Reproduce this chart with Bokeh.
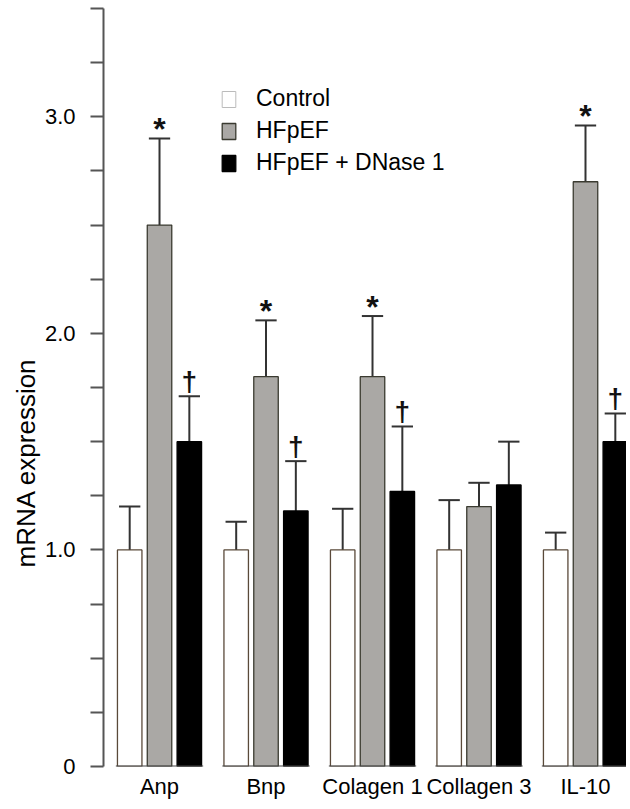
import numpy as np
from bokeh.plotting import figure
from bokeh.models import (Range1d, FixedTicker, ColumnDataSource, Legend, LegendItem, Title)
from bokeh.core.properties import value
from bokeh.embed import file_html
from bokeh.resources import INLINE

# ---- data ----
categories = ["Anp", "Bnp", "Colagen 1", "Collagen 3", "IL-10"]
control = [1.0, 1.0, 1.0, 1.0, 1.0]
control_err = [0.20, 0.13, 0.19, 0.23, 0.08]
hfpef = [2.50, 1.80, 1.80, 1.20, 2.70]
hfpef_err = [0.40, 0.26, 0.28, 0.11, 0.26]
dnase = [1.50, 1.18, 1.27, 1.30, 1.50]
dnase_err = [0.21, 0.23, 0.30, 0.20, 0.13]
star_on_hfpef = [True, True, True, False, True]
dagger_on_dnase = [True, True, True, False, True]
y_ticks = [0, 0.25, 0.5, 0.75, 1.0, 1.25, 1.5, 1.75, 2.0, 2.25, 2.5, 2.75, 3.0, 3.25, 3.5]
y_labels = {0: "0", 1: "1.0", 2: "2.0", 3: "3.0"}

FONT = "Liberation Sans"
centers = np.arange(len(categories), dtype=float)
offset = 0.28
bw = 0.23
cap = 0.10

p = figure(width=626, height=801, output_backend="svg", toolbar_location=None,
           x_range=Range1d(-0.526, 4.385), y_range=Range1d(0, 3.5),
           min_border_left=103, min_border_right=0, min_border_top=8, min_border_bottom=35)
p.outline_line_color = None
p.xgrid.visible = False
p.ygrid.visible = False
p.background_fill_color = "white"

series = [
    ("Control", control, control_err, -offset, "white", "#5a4a3a"),
    ("HFpEF", hfpef, hfpef_err, 0.0, "#aaa8a5", "#3a3a30"),
    ("HFpEF + DNase 1", dnase, dnase_err, offset, "black", "black"),
]

bar_renderers = []
for name, vals, errs, off, fill, line in series:
    xs = centers + off
    vals = np.array(vals)
    tops = vals + np.array(errs)
    src = ColumnDataSource(dict(x=xs, top=vals, etop=tops, x0=xs - cap, x1=xs + cap))
    p.segment(x0="x", y0="top", x1="x", y1="etop", source=src, line_color="#333333", line_width=2)
    p.segment(x0="x0", y0="etop", x1="x1", y1="etop", source=src, line_color="#333333", line_width=2)
    r = p.vbar(x="x", top="top", bottom=0, width=bw, source=src, fill_color=fill,
               line_color=line, line_width=1.3)
    bar_renderers.append(r)

# group baselines
p.segment(x0=centers - 0.41, y0=np.zeros(len(centers)), x1=centers + 0.41, y1=np.zeros(len(centers)),
          line_color="#444444", line_width=2)

# significance markers
hf_top = np.array(hfpef) + np.array(hfpef_err)
dn_top = np.array(dnase) + np.array(dnase_err)
sx = [c for c, s in zip(centers, star_on_hfpef) if s]
sy = [t for t, s in zip(hf_top, star_on_hfpef) if s]
p.text(x=sx, y=sy, text=["*"] * len(sx), text_font=value(FONT), text_font_style="bold",
       text_font_size="32px", text_align="center", text_baseline="alphabetic", y_offset=-9,
       text_color="#111111")
dx = [c + offset for c, s in zip(centers, dagger_on_dnase) if s]
dy = [t for t, s in zip(dn_top, dagger_on_dnase) if s]
p.text(x=dx, y=dy, text=["\u2020"] * len(dx), text_font=value(FONT), text_font_style="bold",
       text_font_size="28px", text_align="center", text_baseline="alphabetic", y_offset=-15,
       text_color="#111111")

# axes
ya = p.yaxis[0]
ya.ticker = FixedTicker(ticks=y_ticks)
ya.major_label_overrides = {t: y_labels.get(t, "") for t in y_ticks}
ya.minor_tick_line_color = None
ya.major_tick_out = 13
ya.major_tick_in = 0
ya.major_tick_line_color = "#555555"
ya.major_tick_line_width = 2
ya.axis_line_color = "#555555"
ya.axis_line_width = 2
ya.major_label_standoff = 15
ya.major_label_text_font = FONT
ya.major_label_text_font_size = "22px"
ya.major_label_text_color = "black"

xa = p.xaxis[0]
xa.ticker = FixedTicker(ticks=list(centers))
xa.major_label_overrides = {float(c): n for c, n in zip(centers, categories)}
xa.major_label_overrides.update({int(c): n for c, n in zip(centers, categories)})
xa.axis_line_color = None
xa.major_tick_line_color = None
xa.minor_tick_line_color = None
xa.major_tick_out = 0
xa.major_label_standoff = 7
xa.major_label_text_font = FONT
xa.major_label_text_font_size = "22px"
xa.major_label_text_color = "black"

# y title as a left-side title
p.add_layout(Title(text="mRNA expression", align="left", offset=199,
                   text_font=FONT, text_font_size="26px", text_font_style="normal",
                   text_color="black", standoff=2), "left")

# legend (control swatch is a faint proxy)
proxy_ctrl = p.vbar(x="x", top="top", width=0.2,
                    source=ColumnDataSource(dict(x=[float("nan")], top=[float("nan")])),
                    fill_color="white", line_color="#bbbbbb", line_width=1)
legend = Legend(items=[LegendItem(label="Control", renderers=[proxy_ctrl]),
                       LegendItem(label="HFpEF", renderers=[bar_renderers[1]]),
                       LegendItem(label="HFpEF + DNase 1", renderers=[bar_renderers[2]])],
                location=(117, 590), border_line_color=None, background_fill_alpha=0,
                padding=0, margin=0, spacing=5, glyph_width=17, glyph_height=20,
                label_height=20, label_standoff=19, label_text_font=FONT,
                label_text_font_size="23px", label_text_color="black")
p.add_layout(legend)

open("out.html", "w").write(file_html(p, INLINE))
